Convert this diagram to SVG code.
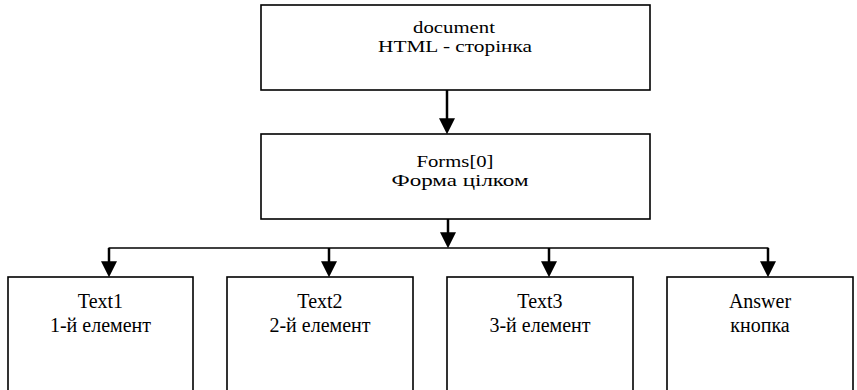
<svg xmlns="http://www.w3.org/2000/svg" width="857" height="390" viewBox="0 0 857 390">
<defs>
<style>
.box{fill:#fff;stroke:#000;stroke-width:1.6}
.t{font-family:"Liberation Serif","DejaVu Serif Condensed","DejaVu Serif","Times New Roman",serif;font-size:20px;fill:#000;text-anchor:middle}
.s{font-size:17px}
.c{fill:none;stroke:#000}
.v{stroke-width:2.5}
.h{stroke-width:1.6}
</style>
<marker id="ah" markerUnits="userSpaceOnUse" markerWidth="16" markerHeight="16" viewBox="0 0 15 15" refX="11" refY="7.5" orient="auto">
<path d="M0,0 L15,7.5 L0,15 z" fill="#000"/>
</marker>
</defs>
<rect width="857" height="390" fill="#fff"/>
<g id="connectors">
<line class="c v" x1="447" y1="90" x2="447" y2="130" marker-end="url(#ah)"/>
<line class="c v" x1="448" y1="219" x2="448" y2="244" marker-end="url(#ah)"/>
<line class="c h" x1="108.5" y1="248" x2="768.5" y2="248"/>
<line class="c v" x1="109" y1="248" x2="109" y2="273" marker-end="url(#ah)"/>
<line class="c v" x1="329" y1="248" x2="329" y2="273" marker-end="url(#ah)"/>
<line class="c v" x1="549" y1="248" x2="549" y2="273" marker-end="url(#ah)"/>
<line class="c v" x1="768" y1="248" x2="768" y2="273" marker-end="url(#ah)"/>
</g>
<g id="document">
<rect class="box" x="261" y="5" width="389" height="85"/>
<text class="t s" x="454" y="33" textLength="82" lengthAdjust="spacingAndGlyphs">document</text>
<text class="t s" x="455" y="52" textLength="154" lengthAdjust="spacingAndGlyphs">HTML - сторінка</text>
</g>
<g id="forms">
<rect class="box" x="261" y="134" width="389" height="85"/>
<text class="t s" x="455" y="167" textLength="77" lengthAdjust="spacingAndGlyphs">Forms[0]</text>
<text class="t s" x="460" y="186" textLength="137" lengthAdjust="spacingAndGlyphs">Форма цілком</text>
</g>
<g id="text1">
<rect class="box" x="8" y="277" width="185" height="120"/>
<text class="t" x="100.5" y="308">Text1</text>
<text class="t" x="100.5" y="332">1-й елемент</text>
</g>
<g id="text2">
<rect class="box" x="227" y="277" width="186" height="120"/>
<text class="t" x="320" y="308">Text2</text>
<text class="t" x="320" y="332">2-й елемент</text>
</g>
<g id="text3">
<rect class="box" x="447" y="277" width="186" height="120"/>
<text class="t" x="540" y="308">Text3</text>
<text class="t" x="540" y="332">3-й елемент</text>
</g>
<g id="answer">
<rect class="box" x="667" y="277" width="186" height="120"/>
<text class="t" x="760" y="308">Answer</text>
<text class="t" x="760" y="332">кнопка</text>
</g>
</svg>
